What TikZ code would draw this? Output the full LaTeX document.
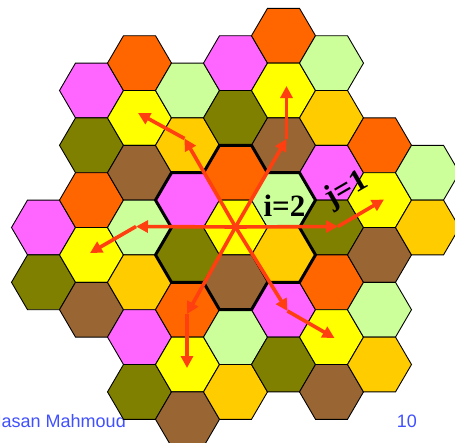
\documentclass[tikz,border=0pt]{standalone}
\usepackage{fontspec}
\setmainfont{Liberation Serif}
\newfontfamily\footfont{Liberation Sans}
\usetikzlibrary{arrows.meta}
\definecolor{hPink}{HTML}{FF66FF}
\definecolor{hOrange}{HTML}{FF6600}
\definecolor{hGreen}{HTML}{CCFF99}
\definecolor{hYellow}{HTML}{FFFF00}
\definecolor{hAmber}{HTML}{FFCC00}
\definecolor{hOlive}{HTML}{808000}
\definecolor{hBrown}{HTML}{996633}
\definecolor{hArrow}{HTML}{FF3F0F}
\definecolor{hFoot}{HTML}{4050FF}
\tikzset{
  hexcell/.style={line width=0.9pt,draw=black,line join=miter},
  ringline/.style={line width=3pt,draw=black,line join=miter},
  ray/.style={draw=hArrow,line width=3.6pt,-{Triangle[length=12pt,width=12pt]}},
  bigtext/.style={font=\fontsize{31}{31}\selectfont\bfseries,text=black,inner sep=0pt},
  foot/.style={font=\footfont\fontsize{18}{18}\selectfont,text=hFoot,inner sep=0pt},
}
\newcommand{\hexpath}[2]{(#1-32,#2) -- (#1-16,#2-27.4) -- (#1+16,#2-27.4) -- (#1+32,#2) -- (#1+16,#2+27.4) -- (#1-16,#2+27.4) -- cycle}
\begin{document}
\begin{tikzpicture}[x=1pt,y=-1pt]
\useasboundingbox (0,0) rectangle (455,442);
\clip (0,0) rectangle (455,442);
\node[foot,anchor=base east] (author) at (126,427) {Hasan Mahmoud};
\node[foot,anchor=base east] (page) at (417,427) {10};
\foreach \cx/\cy/\cc in {
 43.5/227.5/hPink, 43.5/282.3/hOlive,
 91.5/90.5/hPink, 91.5/145.3/hOlive, 91.5/200.1/hOrange, 91.5/254.9/hYellow, 91.5/309.7/hBrown,
 139.5/63.1/hOrange, 139.5/117.9/hYellow, 139.5/172.7/hBrown, 139.5/227.5/hGreen, 139.5/282.3/hAmber, 139.5/337.1/hPink, 139.5/391.9/hOlive,
 187.5/90.5/hGreen, 187.5/145.3/hAmber, 187.5/200.1/hPink, 187.5/254.9/hOlive, 187.5/309.7/hOrange, 187.5/364.5/hYellow, 187.5/419.3/hBrown,
 235.5/63.1/hPink, 235.5/117.9/hOlive, 235.5/172.7/hOrange, 235.5/227.5/hYellow, 235.5/282.3/hBrown, 235.5/337.1/hGreen, 235.5/391.9/hAmber,
 283.5/35.7/hOrange, 283.5/90.5/hYellow, 283.5/145.3/hBrown, 283.5/200.1/hGreen, 283.5/254.9/hAmber, 283.5/309.7/hPink, 283.5/364.5/hOlive,
 331.5/63.1/hGreen, 331.5/117.9/hAmber, 331.5/172.7/hPink, 331.5/227.5/hOlive, 331.5/282.3/hOrange, 331.5/337.1/hYellow, 331.5/391.9/hBrown,
 379.5/145.3/hOrange, 379.5/200.1/hYellow, 379.5/254.9/hBrown, 379.5/309.7/hGreen, 379.5/364.5/hAmber,
 427.5/172.7/hGreen, 427.5/227.5/hAmber}
 {\path[hexcell,fill=\cc] \hexpath{\cx}{\cy};}
% thick ring around the seven central cells
\draw[ringline] (155.5,200.1) -- (171.5,172.7) -- (203.5,172.7) -- (219.5,145.3) -- (251.5,145.3) -- (267.5,172.7) -- (299.5,172.7) -- (315.5,200.1) -- (299.5,227.5) -- (315.5,254.9) -- (299.5,282.3) -- (267.5,282.3) -- (251.5,309.7) -- (219.5,309.7) -- (203.5,282.3) -- (171.5,282.3) -- (155.5,254.9) -- (171.5,227.5) -- cycle;
\coordinate (hub) at (235.5,227);
\coordinate (a1) at (184.5,138.5); \coordinate (a2) at (138,113);
\coordinate (b1) at (286.5,139); \coordinate (b2) at (286.5,86);
\coordinate (c1) at (338,226.5); \coordinate (c2) at (384,199.5);
\coordinate (d1) at (287.5,311); \coordinate (d2) at (334.5,338);
\coordinate (e1) at (187,314); \coordinate (e2) at (187,368);
\coordinate (f1) at (136,226.5); \coordinate (f2) at (90,253);
\foreach \p/\q in {hub/a1,a1/a2,hub/b1,b1/b2,hub/c1,c1/c2,hub/d1,d1/d2,hub/e1,e1/e2,hub/f1,f1/f2}
  \draw[ray] (\p) -- (\q);
\node[bigtext] (ilabel) at (284.5,206) {i=2};
\node[bigtext,rotate=30] (jlabel) at (347,190) {j=1};
\end{tikzpicture}
\end{document}
